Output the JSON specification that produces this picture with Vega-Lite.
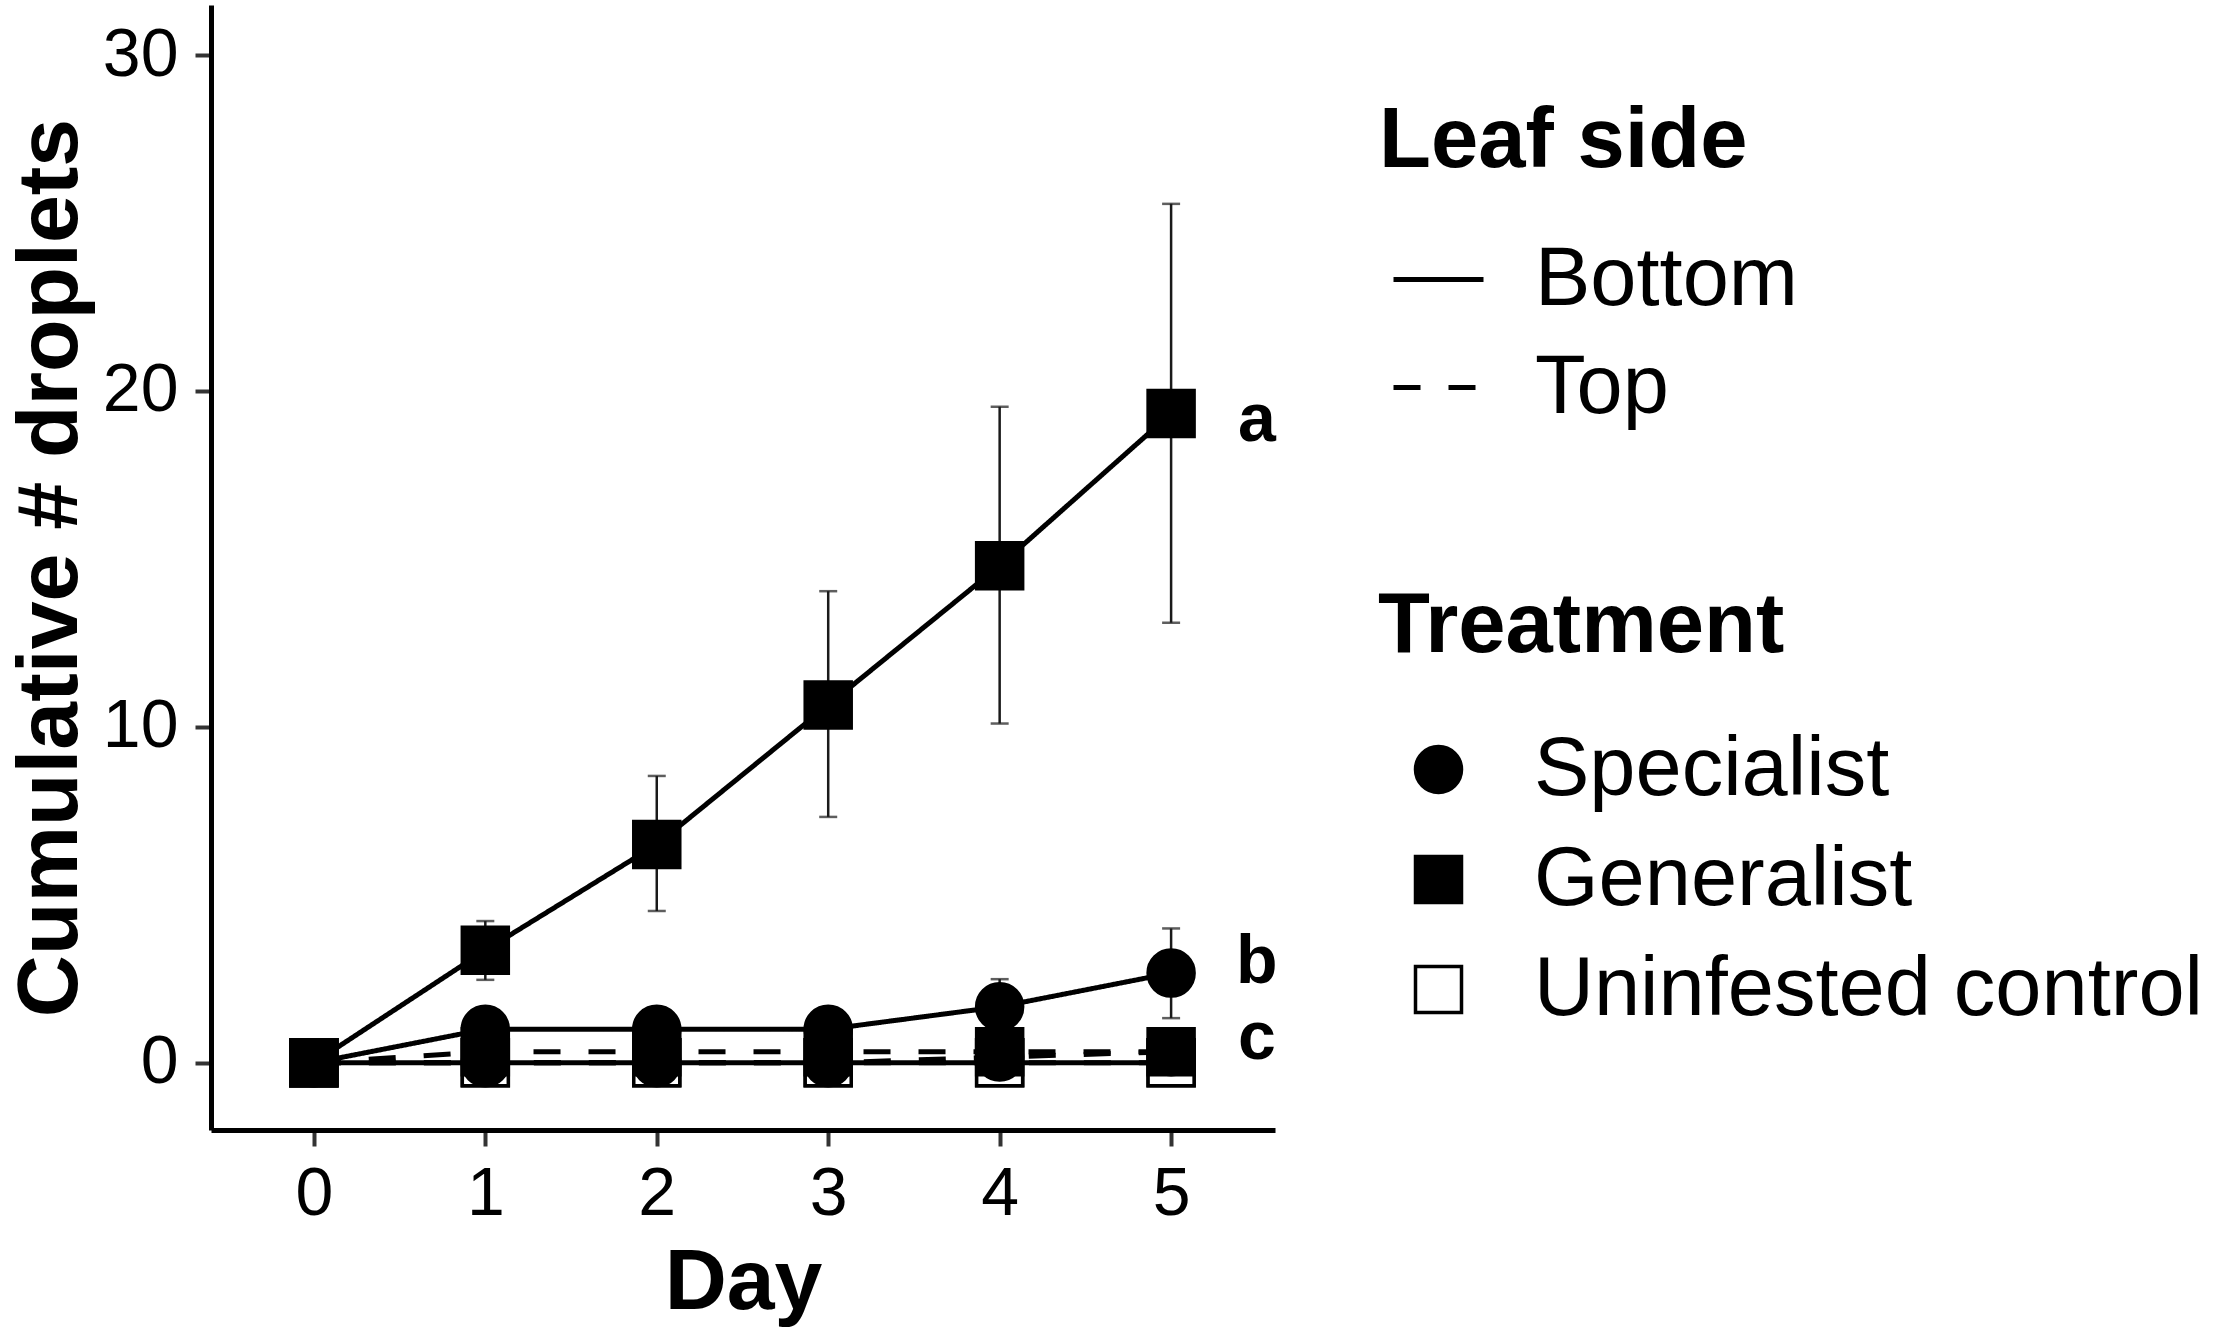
{
  "$schema": "https://vega.github.io/schema/vega-lite/v6.json",
  "autosize": {"type": "none"},
  "padding": {"left": 211, "top": 5, "right": 942, "bottom": 201},
  "width": 1064,
  "height": 1125,
  "background": "white",
  "datasets": {
    "means": [
      {"Day": 0, "Treatment": "Uninfested control", "Side": "Bottom", "mean": 0},
      {"Day": 1, "Treatment": "Uninfested control", "Side": "Bottom", "mean": 0},
      {"Day": 2, "Treatment": "Uninfested control", "Side": "Bottom", "mean": 0},
      {"Day": 3, "Treatment": "Uninfested control", "Side": "Bottom", "mean": 0},
      {"Day": 4, "Treatment": "Uninfested control", "Side": "Bottom", "mean": 0},
      {"Day": 5, "Treatment": "Uninfested control", "Side": "Bottom", "mean": 0},
      {"Day": 0, "Treatment": "Uninfested control", "Side": "Top", "mean": 0},
      {"Day": 1, "Treatment": "Uninfested control", "Side": "Top", "mean": 0},
      {"Day": 2, "Treatment": "Uninfested control", "Side": "Top", "mean": 0},
      {"Day": 3, "Treatment": "Uninfested control", "Side": "Top", "mean": 0},
      {"Day": 4, "Treatment": "Uninfested control", "Side": "Top", "mean": 0},
      {"Day": 5, "Treatment": "Uninfested control", "Side": "Top", "mean": 0},
      {"Day": 0, "Treatment": "Specialist", "Side": "Top", "mean": 0},
      {"Day": 1, "Treatment": "Specialist", "Side": "Top", "mean": 0},
      {"Day": 2, "Treatment": "Specialist", "Side": "Top", "mean": 0},
      {"Day": 3, "Treatment": "Specialist", "Side": "Top", "mean": 0},
      {"Day": 4, "Treatment": "Specialist", "Side": "Top", "mean": 0.17},
      {"Day": 5, "Treatment": "Specialist", "Side": "Top", "mean": 0.33},
      {"Day": 0, "Treatment": "Specialist", "Side": "Bottom", "mean": 0},
      {"Day": 1, "Treatment": "Specialist", "Side": "Bottom", "mean": 1.0},
      {"Day": 2, "Treatment": "Specialist", "Side": "Bottom", "mean": 1.0},
      {"Day": 3, "Treatment": "Specialist", "Side": "Bottom", "mean": 1.0},
      {"Day": 4, "Treatment": "Specialist", "Side": "Bottom", "mean": 1.67, "lo": 0.85, "hi": 2.49},
      {"Day": 5, "Treatment": "Specialist", "Side": "Bottom", "mean": 2.67, "lo": 1.33, "hi": 4.0},
      {"Day": 0, "Treatment": "Generalist", "Side": "Top", "mean": 0},
      {"Day": 1, "Treatment": "Generalist", "Side": "Top", "mean": 0.33},
      {"Day": 2, "Treatment": "Generalist", "Side": "Top", "mean": 0.33},
      {"Day": 3, "Treatment": "Generalist", "Side": "Top", "mean": 0.33},
      {"Day": 4, "Treatment": "Generalist", "Side": "Top", "mean": 0.33},
      {"Day": 5, "Treatment": "Generalist", "Side": "Top", "mean": 0.33},
      {"Day": 0, "Treatment": "Generalist", "Side": "Bottom", "mean": 0},
      {"Day": 1, "Treatment": "Generalist", "Side": "Bottom", "mean": 3.35, "lo": 2.47, "hi": 4.22},
      {"Day": 2, "Treatment": "Generalist", "Side": "Bottom", "mean": 6.5, "lo": 4.52, "hi": 8.54},
      {"Day": 3, "Treatment": "Generalist", "Side": "Bottom", "mean": 10.65, "lo": 7.32, "hi": 14.04},
      {"Day": 4, "Treatment": "Generalist", "Side": "Bottom", "mean": 14.8, "lo": 10.1, "hi": 19.53},
      {"Day": 5, "Treatment": "Generalist", "Side": "Bottom", "mean": 19.33, "lo": 13.1, "hi": 25.57}
    ],
    "letters": [
      {"Day": 5.5, "y": 18.5, "label": "a"},
      {"Day": 5.5, "y": 2.38, "label": "b"},
      {"Day": 5.5, "y": 0.12, "label": "c"}
    ]
  },
  "layer": [
    {
      "data": {"name": "means"},
      "transform": [{"filter": "datum.hi != null"}],
      "mark": {"type": "errorbar", "color": "#1a1a1a", "thickness": 2.5, "ticks": {"size": 18, "thickness": 2.5, "color": "#1a1a1a"}},
      "encoding": {
        "x": {"field": "Day", "type": "quantitative", "scale": {"domain": [-0.6, 5.606], "nice": false, "zero": false}, "title": "Day", "axis": {"values": [0, 1, 2, 3, 4, 5], "format": "d"}},
        "y": {"field": "lo", "type": "quantitative", "scale": {"domain": [-2, 31.49], "nice": false, "zero": false}, "title": "Cumulative # droplets", "axis": {"values": [0, 10, 20, 30], "format": "d"}},
        "y2": {"field": "hi"}
      }
    },
    {
      "data": {"name": "means"},
      "mark": {"type": "line", "color": "black", "strokeWidth": 5, "strokeCap": "butt"},
      "encoding": {
        "x": {"field": "Day", "type": "quantitative", "title": "Day"},
        "y": {"field": "mean", "type": "quantitative", "title": "Cumulative # droplets"},
        "detail": {"field": "Treatment", "type": "nominal"},
        "strokeDash": {
          "field": "Side",
          "type": "nominal",
          "scale": {"domain": ["Bottom", "Top"], "range": [[1, 0], [27, 28]]},
          "legend": {
            "title": "Leaf side",
            "orient": "none",
            "legendX": 1168,
            "legendY": 95,
            "symbolType": "stroke",
            "symbolSize": 8100,
            "symbolStrokeWidth": 5,
            "symbolStrokeColor": "black",
            "symbolOffset": 12,
            "labelOffset": 49,
            "rowPadding": 18
          }
        }
      }
    },
    {
      "data": {"name": "means"},
      "mark": {"type": "point", "filled": true, "opacity": 1, "size": 2116, "strokeWidth": 3.5},
      "encoding": {
        "x": {"field": "Day", "type": "quantitative", "title": "Day"},
        "y": {"field": "mean", "type": "quantitative", "title": "Cumulative # droplets"},
        "shape": {
          "field": "Treatment",
          "type": "nominal",
          "scale": {"domain": ["Specialist", "Generalist", "Uninfested control"], "range": ["circle", "square", "square"]},
          "legend": {
            "title": "Treatment",
            "orient": "none",
            "legendX": 1167,
            "legendY": 580,
            "symbolSize": 2116,
            "symbolStrokeWidth": 3.5,
            "symbolOffset": 19,
            "labelOffset": 54,
            "titlePadding": 58
          }
        },
        "fill": {
          "field": "Treatment",
          "type": "nominal",
          "scale": {"domain": ["Specialist", "Generalist", "Uninfested control"], "range": ["black", "black", "white"]},
          "legend": {
            "title": "Treatment",
            "orient": "none",
            "legendX": 1167,
            "legendY": 580,
            "symbolSize": 2116,
            "symbolStrokeWidth": 3.5,
            "symbolOffset": 19,
            "labelOffset": 54,
            "titlePadding": 58
          }
        },
        "stroke": {
          "field": "Treatment",
          "type": "nominal",
          "scale": {"domain": ["Specialist", "Generalist", "Uninfested control"], "range": ["black", "black", "black"]},
          "legend": {
            "title": "Treatment",
            "orient": "none",
            "legendX": 1167,
            "legendY": 580,
            "symbolSize": 2116,
            "symbolStrokeWidth": 3.5,
            "symbolOffset": 19,
            "labelOffset": 54,
            "titlePadding": 58
          }
        }
      }
    },
    {
      "data": {"name": "letters"},
      "mark": {"type": "text", "font": "Liberation Sans", "fontWeight": "bold", "fontSize": 68, "align": "center", "baseline": "alphabetic", "color": "black"},
      "encoding": {
        "x": {"field": "Day", "type": "quantitative"},
        "y": {"field": "y", "type": "quantitative"},
        "text": {"field": "label", "type": "nominal"}
      }
    }
  ],
  "config": {
    "view": {"stroke": null},
    "font": "Liberation Sans",
    "axis": {
      "grid": false,
      "domainColor": "black",
      "domainWidth": 5,
      "tickColor": "#333333",
      "tickWidth": 4,
      "tickSize": 16,
      "labelFont": "Liberation Sans",
      "labelFontSize": 68,
      "labelColor": "black",
      "titleFont": "Liberation Sans",
      "titleFontSize": 86,
      "titleFontWeight": "bold",
      "titleColor": "black"
    },
    "axisX": {"labelPadding": 14, "titlePadding": 12},
    "axisY": {"labelPadding": 17, "titlePadding": 8},
    "legend": {
      "titleFont": "Liberation Sans",
      "titleFontSize": 85,
      "titleFontWeight": "bold",
      "titleColor": "black",
      "titleLimit": 2000,
      "labelFont": "Liberation Sans",
      "labelFontSize": 83,
      "labelColor": "black",
      "labelLimit": 2000,
      "padding": 0,
      "rowPadding": 26,
      "titlePadding": 47
    }
  }
}
